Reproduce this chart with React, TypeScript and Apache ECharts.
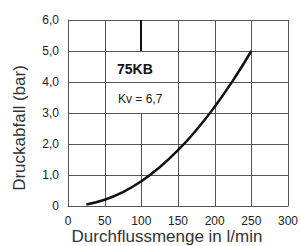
import React, { useEffect, useRef } from "react";
import * as echarts from "echarts";

const flow = [25, 50, 75, 100, 125, 150, 175, 200, 225, 250];
const pressure = [0.05, 0.2, 0.45, 0.8, 1.25, 1.8, 2.45, 3.2, 4.05, 5.0];
const yTicks = [0, 1, 2, 3, 4, 5, 6];
// vertical grid segments: [flow, fromBar, toBar, emphasis]
const vGrid = [
  [50, 0, 6, 0],
  [100, 0, 3, 0],
  [100, 5, 6, 1],
  [150, 0, 6, 0],
  [200, 0, 6, 0],
  [250, 0, 6, 0],
  [300, 0, 6, 0],
];
const modelLabel = "75KB";
const kvLabel = "Kv = 6,7";
const xName = "Durchflussmenge in l/min";
const yName = "Druckabfall (bar)";

const GRID = "#555555";
const FONT = "'Liberation Sans', Arial, sans-serif";

export default function App() {
  const ref = useRef<HTMLDivElement>(null);
  useEffect(() => {
    document.body.style.margin = "0";
    const chart = echarts.init(ref.current!, null, { renderer: "svg" });
    chart.setOption({
      animation: false,
      textStyle: { fontFamily: FONT },
      grid: { left: 68, right: 13, top: 20, bottom: 40 },
      xAxis: {
        type: "value",
        min: 0,
        max: 300,
        interval: 50,
        axisLine: { show: true, lineStyle: { color: GRID, width: 1 } },
        axisTick: { show: false },
        splitLine: { show: false },
        axisLabel: { color: "#222", fontSize: 12, margin: 9, fontFamily: FONT },
      },
      yAxis: {
        type: "value",
        min: 0,
        max: 6,
        interval: 1,
        axisLine: { show: true, lineStyle: { color: GRID, width: 1 } },
        axisTick: { show: false },
        splitLine: { show: true, lineStyle: { color: GRID, width: 1 } },
        axisLabel: {
          color: "#222",
          fontSize: 12,
          margin: 9,
          fontFamily: FONT,
          formatter: (v: number) =>
            yTicks.includes(v) ? (v === 0 ? "0" : v.toFixed(1).replace(".", ",")) : "",
        },
      },
      series: [
        {
          type: "custom",
          silent: true,
          z: 1,
          clip: false,
          data: vGrid,
          renderItem: (_params: any, api: any) => {
            const p0 = api.coord([api.value(0), api.value(1)]);
            const p1 = api.coord([api.value(0), api.value(2)]);
            const strong = api.value(3) === 1;
            const x = Math.round(p0[0]) + (strong ? 0 : 0.5);
            return {
              type: "line",
              shape: { x1: x, y1: p0[1], x2: x, y2: p1[1] },
              style: { stroke: strong ? "#111111" : GRID, lineWidth: strong ? 2 : 1 },
            };
          },
        },
        {
          type: "line",
          data: flow.map((f, i) => [f, pressure[i]]),
          smooth: true,
          showSymbol: false,
          lineStyle: { color: "#111111", width: 2.5 },
          z: 5,
        },
      ],
      graphic: [
        {
          type: "text",
          x: 117,
          y: 69,
          style: { text: modelLabel, font: `bold 14px ${FONT}`, fill: "#111", verticalAlign: "middle" },
        },
        {
          type: "text",
          x: 118,
          y: 99,
          style: { text: kvLabel, font: `12px ${FONT}`, fill: "#222", verticalAlign: "middle" },
        },
        {
          type: "text",
          x: 167,
          y: 236,
          style: { text: xName, font: `17px ${FONT}`, fill: "#333", align: "center", verticalAlign: "middle" },
        },
        {
          type: "text",
          x: 19,
          y: 128,
          rotation: Math.PI / 2,
          style: { text: yName, font: `17px ${FONT}`, fill: "#333", align: "center", verticalAlign: "middle" },
        },
      ],
    });
    return () => chart.dispose();
  }, []);
  return <div ref={ref} style={{ width: 301, height: 246 }} />;
}
